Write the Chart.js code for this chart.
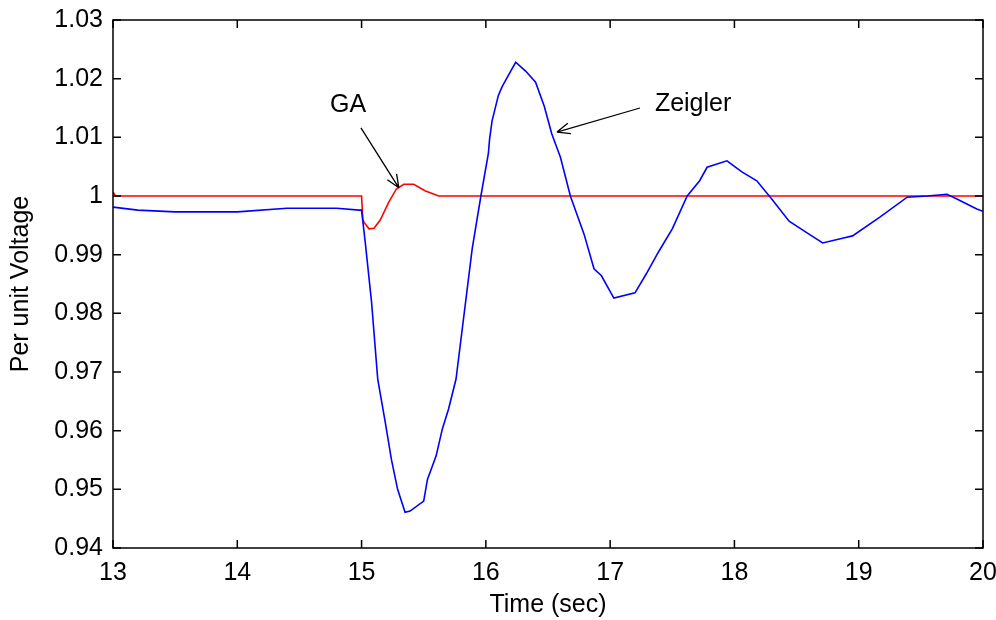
<!DOCTYPE html>
<html>
<head>
<meta charset="utf-8">
<script src="https://cdn.jsdelivr.net/npm/chart.js@4/dist/chart.umd.min.js"></script>
<style>
  html, body { margin: 0; padding: 0; background: #fff; }
</style>
</head>
<body>
<canvas id="chart" width="996" height="620"></canvas>
<script>
// Zeigler-tuned controller response
const zeiglerTime = [13.0, 13.2, 13.5, 14.0, 14.4, 14.8, 14.98, 15.0, 15.03, 15.08, 15.13, 15.19, 15.24, 15.29, 15.35, 15.39,
  15.5, 15.53, 15.6, 15.65, 15.7, 15.76, 15.89, 15.96, 16.02, 16.03, 16.05, 16.1, 16.13, 16.2, 16.24, 16.32, 16.4, 16.47,
  16.53, 16.6, 16.68, 16.79, 16.87, 16.93, 17.03, 17.2, 17.29, 17.39, 17.5, 17.62, 17.72, 17.78, 17.94, 18.06, 18.18,
  18.3, 18.44, 18.6, 18.71, 18.87, 18.95, 19.17, 19.39, 19.55, 19.71, 19.79, 19.95, 20.0]
const zeiglerValue = [0.9981, 0.9976, 0.9973, 0.9973, 0.9979, 0.9979, 0.9976, 0.9976, 0.992, 0.982, 0.9688, 0.9615, 0.9551, 0.950, 0.9461, 0.9463,
  0.948, 0.9517, 0.9557, 0.9603, 0.9637, 0.9688, 0.991, 1.0, 1.0072, 1.0097, 1.0128, 1.0171, 1.0186, 1.0213, 1.0228, 1.0213, 1.0194, 1.0153,
  1.0106, 1.0066, 1.0, 0.9935, 0.9876, 0.9864, 0.9826, 0.9835, 0.9867, 0.9905, 0.9944, 1.0, 1.0026, 1.0049, 1.006, 1.0041, 1.0026,
  0.9995, 0.9957, 0.9935, 0.992, 0.9928, 0.9932, 0.9964, 0.9998, 1.0, 1.0003, 0.9995, 0.9978, 0.9974]

// GA-tuned controller response
const gaTime = [13.0, 13.02, 15.0, 15.01, 15.02, 15.06, 15.1, 15.15, 15.22, 15.28, 15.34, 15.42, 15.51, 15.62, 20.0]
const gaValue = [1.0007, 1.0, 1.0, 0.996, 0.9955, 0.9944, 0.9945, 0.9959, 0.999, 1.0012, 1.002, 1.002, 1.0009, 1.0, 1.0]

const xTicks = [13, 14, 15, 16, 17, 18, 19, 20]
const yTicks = [0.94, 0.95, 0.96, 0.97, 0.98, 0.99, 1.0, 1.01, 1.02, 1.03]

// text labels with arrows: [label, textT, textV, tailT, tailV, tipT, tipV]
const callouts = [
  ["GA", 14.746, 1.0143, 14.995, 1.0116, 15.30, 1.0014],
  ["Zeigler", 17.36, 1.0145, 17.24, 1.015, 16.572, 1.0109]
]

const FONT = "'Liberation Sans', Arial, Helvetica, sans-serif"

const toPoints = (ts, vs) => ts.map((t, i) => ({ x: t, y: vs[i] }))

// box around the plot with inward tick marks on all four sides
const frame = {
  id: "frame",
  afterDatasetsDraw(chart) {
    const { ctx, chartArea: a, scales: { x, y } } = chart
    ctx.save()
    ctx.strokeStyle = "#000"
    ctx.lineWidth = 1.5
    ctx.strokeRect(a.left, a.top, a.right - a.left, a.bottom - a.top)
    ctx.beginPath()
    xTicks.forEach(t => {
      const px = x.getPixelForValue(t)
      ctx.moveTo(px, a.bottom); ctx.lineTo(px, a.bottom - 8)
      ctx.moveTo(px, a.top); ctx.lineTo(px, a.top + 8)
    })
    yTicks.forEach(v => {
      const py = y.getPixelForValue(v)
      ctx.moveTo(a.left, py); ctx.lineTo(a.left + 8, py)
      ctx.moveTo(a.right, py); ctx.lineTo(a.right - 8, py)
    })
    ctx.stroke()

    // callout labels
    ctx.font = "25px " + FONT
    ctx.fillStyle = "#000"
    ctx.textBaseline = "alphabetic"
    ctx.lineWidth = 1.3
    callouts.forEach(([label, tt, tv, t0, v0, t1, v1]) => {
      ctx.fillText(label, x.getPixelForValue(tt), y.getPixelForValue(tv))
      const x0 = x.getPixelForValue(t0), y0 = y.getPixelForValue(v0)
      const x1 = x.getPixelForValue(t1), y1 = y.getPixelForValue(v1)
      const ang = Math.atan2(y1 - y0, x1 - x0)
      ctx.beginPath()
      ctx.moveTo(x0, y0); ctx.lineTo(x1, y1)
      ;[-0.4, 0.4].forEach(d => {
        ctx.moveTo(x1, y1)
        ctx.lineTo(x1 - 14 * Math.cos(ang + d), y1 - 14 * Math.sin(ang + d))
      })
      ctx.stroke()
    })
    ctx.restore()
  }
}

new Chart(document.getElementById("chart"), {
  type: "line",
  data: {
    datasets: [{
      label: "Zeigler",
      data: toPoints(zeiglerTime, zeiglerValue),
      borderColor: "#0000ff",
      borderWidth: 1.6,
      pointRadius: 0,
      tension: 0
    }, {
      label: "GA",
      data: toPoints(gaTime, gaValue),
      borderColor: "#ff0000",
      borderWidth: 1.6,
      pointRadius: 0,
      tension: 0
    }]
  },
  options: {
    responsive: false,
    animation: false,
    layout: { padding: { top: 20, right: 13, left: 0, bottom: 0 } },
    plugins: {
      legend: { display: false },
      tooltip: { enabled: false }
    },
    scales: {
      x: {
        type: "linear",
        min: 13,
        max: 20,
        afterFit: s => { s.height = 72; s.paddingLeft = 0; s.paddingRight = 0 },
        afterBuildTicks: s => { s.ticks = xTicks.map(v => ({ value: v })) },
        grid: { display: false, drawTicks: false },
        border: { display: false },
        ticks: {
          padding: 10,
          color: "#000",
          font: { family: FONT, size: 25 }
        },
        title: {
          display: true,
          text: "Time (sec)",
          color: "#000",
          padding: { top: 2, bottom: 0 },
          font: { family: FONT, size: 25 }
        }
      },
      y: {
        min: 0.94,
        max: 1.03,
        afterFit: s => { s.width = 113; s.paddingTop = 0; s.paddingBottom = 0 },
        afterBuildTicks: s => { s.ticks = yTicks.map(v => ({ value: v })) },
        grid: { display: false, drawTicks: false },
        border: { display: false },
        ticks: {
          padding: 10,
          color: "#000",
          font: { family: FONT, size: 25 },
          callback: v => String(parseFloat(v.toFixed(2)))
        },
        title: {
          display: true,
          text: "Per unit Voltage",
          color: "#000",
          padding: { top: 6, bottom: 0 },
          font: { family: FONT, size: 25 }
        }
      }
    }
  },
  plugins: [frame]
})
</script>
</body>
</html>
